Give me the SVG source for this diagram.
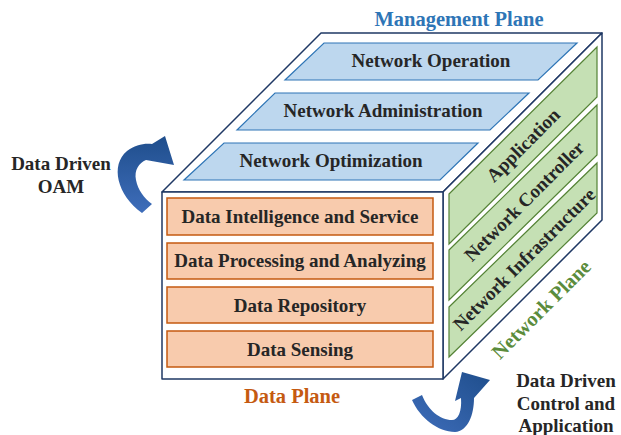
<svg xmlns="http://www.w3.org/2000/svg" width="621" height="435" viewBox="0 0 621 435">
<defs>
<linearGradient id="gA" x1="0" y1="0" x2="0" y2="1">
<stop offset="0" stop-color="#1F4E8C"/>
<stop offset="1" stop-color="#3E6DBA"/>
</linearGradient>
<linearGradient id="gB" x1="0" y1="1" x2="1" y2="0">
<stop offset="0" stop-color="#3E6DBA"/>
<stop offset="1" stop-color="#1F4E8C"/>
</linearGradient>
</defs>
<style>
text{font-family:"Liberation Serif","Times New Roman",serif;font-weight:bold;}
.lbl{font-size:19px;fill:#262626;text-anchor:middle;}
.edge{fill:#fff;stroke:#1F3864;stroke-width:1.5;stroke-linejoin:round;}
.mp{fill:#BDD7EE;stroke:#2E75B6;stroke-width:1.2;}
.dp{fill:#F8CBAD;stroke:#C55A11;stroke-width:1.5;}
.np{fill:#C5E0B4;stroke:#548235;stroke-width:1.2;}
.plane{font-size:20.5px;text-anchor:middle;}
</style>
<g id="cube">
<polygon class="edge" points="162,192 321,33 602,33 443,192"/>
<polygon class="edge" points="443,192 602,33 602,220 443,379"/>
<rect class="edge" x="162" y="192" width="281" height="187"/>
</g>
<g id="management-plane">
<text class="plane" x="459" y="26" fill="#2E75B6">Management Plane</text>
</g>
<g id="network-operation">
<polygon class="mp" points="324,43 577,43 538,80 285,80"/>
<text class="lbl" x="431" y="67">Network Operation</text>
</g>
<g id="network-administration">
<polygon class="mp" points="275,93 529,93 490,130 237,130"/>
<text class="lbl" x="383" y="117">Network Administration</text>
</g>
<g id="network-optimization">
<polygon class="mp" points="224,143 478,143 440,180 184,180"/>
<text class="lbl" x="331" y="167">Network Optimization</text>
</g>
<g id="data-intelligence">
<rect class="dp" x="167" y="198" width="266" height="37"/>
<text class="lbl" x="300" y="223">Data Intelligence and Service</text>
</g>
<g id="data-processing">
<rect class="dp" x="167" y="243" width="266" height="36"/>
<text class="lbl" x="300" y="267">Data Processing and Analyzing</text>
</g>
<g id="data-repository">
<rect class="dp" x="167" y="287" width="266" height="36"/>
<text class="lbl" x="300" y="312">Data Repository</text>
</g>
<g id="data-sensing">
<rect class="dp" x="167" y="331" width="266" height="36"/>
<text class="lbl" x="300" y="356">Data Sensing</text>
</g>
<g id="data-plane">
<text class="plane" x="292" y="403" fill="#C55A11">Data Plane</text>
</g>
<g id="application">
<polygon class="np" points="449,194 597,47 597,97 449,244"/>
<text class="lbl" transform="translate(523,145) rotate(-45)" dy="0.35em">Application</text>
</g>
<g id="network-controller">
<polygon class="np" points="449,250 597,105 597,155 449,300"/>
<text class="lbl" transform="translate(524,201) rotate(-45)" dy="0.35em">Network Controller</text>
</g>
<g id="network-infrastructure">
<polygon class="np" points="449,307 597,163 597,213 449,357"/>
<text class="lbl" transform="translate(524,259) rotate(-45)" dy="0.35em">Network Infrastructure</text>
</g>
<g id="network-plane">
<text class="plane" transform="translate(541,309) rotate(-45)" dy="0.35em" fill="#5B8C3C">Network Plane</text>
</g>
<g id="connectors">
<path fill="url(#gA)" d="M142,213 C117,195 110,165 127,151 C135,145 144,143 152,144 L165,136 L174,165 L146,160 C139,163 134,170 136,180 C138,190 144,198 152,204 Z"/>
<path fill="url(#gB)" d="M412,400 C420,418 438,432 455,432 C468,431 474,415 474,398 L490,380 L462,372 L455,401 L461,398 C462,412 458,420 452,420 C440,420 428,410 422,395 Z"/>
</g>
<g id="oam-label">
<text class="lbl" x="61" y="170">Data Driven</text>
<text class="lbl" x="61" y="193">OAM</text>
</g>
<g id="control-label">
<text class="lbl" x="566" y="387">Data Driven</text>
<text class="lbl" x="566" y="410">Control and</text>
<text class="lbl" x="566" y="432">Application</text>
</g>
</svg>
